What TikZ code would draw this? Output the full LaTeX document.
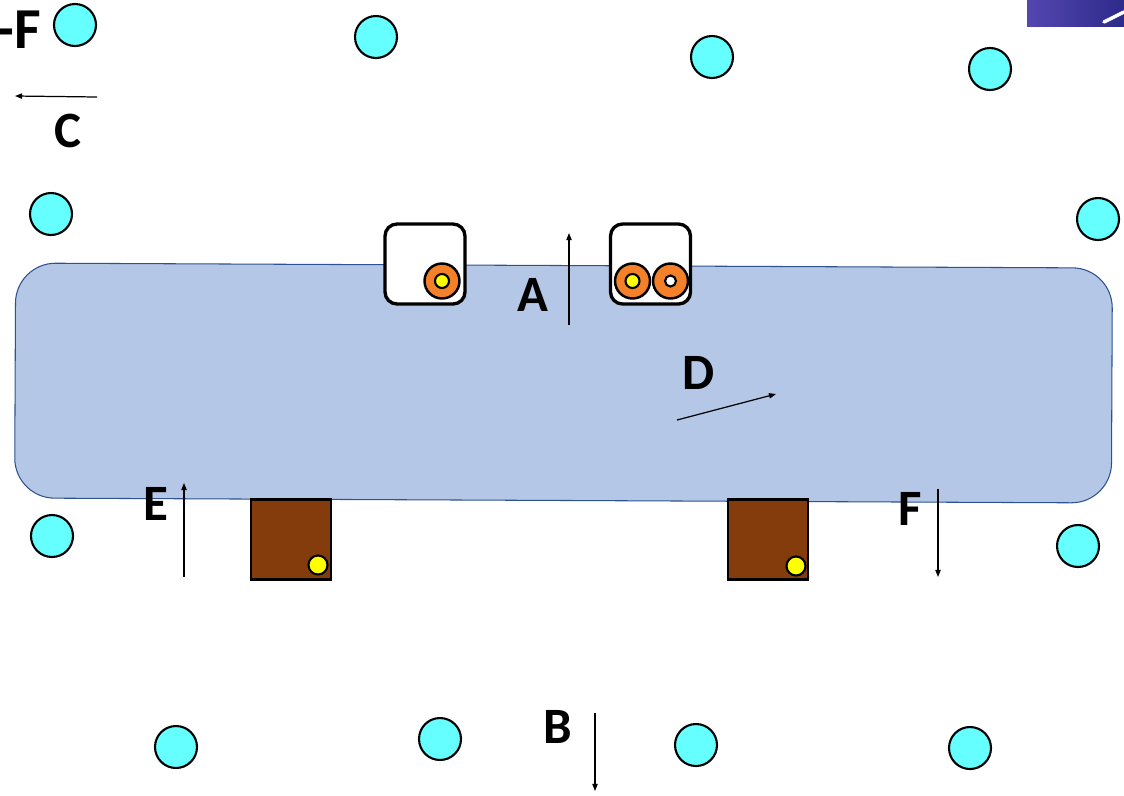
\documentclass[tikz,border=0pt]{standalone}
\usepackage{fontspec}
\setmainfont{Carlito}
\usepackage{tikz}
\usetikzlibrary{arrows.meta}

\definecolor{ballcyan}{HTML}{66FFFF}
\definecolor{slab}{HTML}{B4C7E7}
\definecolor{slabline}{HTML}{2F528F}
\definecolor{portorange}{HTML}{F4812A}
\definecolor{footbrown}{HTML}{843C0C}
\definecolor{pinyellow}{HTML}{FFFF00}
\definecolor{bannerleft}{HTML}{5447B0}
\definecolor{bannerright}{HTML}{2D2A8A}

\tikzset{
  ball/.style={draw, circle, minimum size=0.84cm, inner sep=0pt, fill=ballcyan, line width=1.2pt},
  socket/.style={draw, rounded corners=0.24cm, minimum size=1.6cm, inner sep=0pt, fill=white, line width=1.9pt},
  port/.style={draw, circle, minimum size=0.7cm, inner sep=0pt, fill=portorange, line width=1.4pt},
  pin/.style={draw, circle, minimum size=#1, inner sep=0pt, fill=pinyellow, line width=1.2pt},
  foot/.style={draw, minimum size=1.6cm, inner sep=0pt, fill=footbrown, line width=1.6pt},
  force/.style={line width=0.7pt, -{Triangle[length=4pt,width=3pt]}},
  tag/.style={font=\fontsize{29}{30}\selectfont\bfseries, inner sep=0pt, anchor=base}
}

\begin{document}
\begin{tikzpicture}[x=0.02cm, y=-0.02cm]
  \useasboundingbox (0,0) rectangle (1124,795);

  % corner of the slide banner
  \shade[left color=bannerleft, right color=bannerright] (1027,0) rectangle (1124,26);
  \draw[white, line width=2pt, line cap=round] (1104,22) .. controls (1112,18) .. (1124,12);

  % slab
  \node[draw=slabline, fill=slab, line width=0.6pt, rounded corners=0.8cm,
        minimum width=21.94cm, minimum height=4.7cm, rotate=-0.26] (slab) at (563.5,383) {};

  % balls round the slab
  \node[ball] (b1) at (75,25) {};
  \node[ball] (b2) at (376,37) {};
  \node[ball] (b3) at (712,57) {};
  \node[ball] (b4) at (990,69) {};
  \node[ball] (b5) at (51,214) {};
  \node[ball] (b6) at (1098,219) {};
  \node[ball] (b7) at (52,536) {};
  \node[ball] (b8) at (1078,546) {};
  \node[ball] (b9) at (176,747) {};
  \node[ball] (b10) at (440,739) {};
  \node[ball] (b11) at (696,745) {};
  \node[ball] (b12) at (970,748) {};

  % sockets on top
  \node[socket] (s1) at (425,264) {};
  \node[port] (p1) at (442,281) {};
  \node[pin=0.28cm] (y1) at (p1) {};
  \node[socket] (s2) at (650.5,264) {};
  \node[port] (p2) at (632.5,281) {};
  \node[pin=0.28cm] (y2) at (p2) {};
  \node[port] (p3) at (670.5,281) {};
  \node[pin=0.22cm, fill=white] (y3) at (p3) {};

  % feet below
  \node[foot] (f1) at (291,539.5) {};
  \node[pin=0.38cm] (y4) at (318,565) {};
  \node[foot] (f2) at (768,539.5) {};
  \node[pin=0.38cm] (y5) at (796,566) {};

  % forces
  \coordinate (c0) at (97,97);   \coordinate (c1) at (15,96);
  \coordinate (a0) at (569,325); \coordinate (a1) at (569,233);
  \coordinate (d0) at (677,420); \coordinate (d1) at (776,394);
  \coordinate (e0) at (184,577); \coordinate (e1) at (184,483);
  \coordinate (g0) at (938,489); \coordinate (g1) at (938,577);
  \coordinate (h0) at (595,713); \coordinate (h1) at (595,791);
  \draw[force] (c0) -- (c1);
  \draw[force] (a0) -- (a1);
  \draw[force] (d0) -- (d1);
  \draw[force] (e0) -- (e1);
  \draw[force] (g0) -- (g1);
  \draw[force] (h0) -- (h1);

  \node[tag, anchor=base east, font=\fontsize{33}{34}\selectfont\bfseries] (lmf) at (41,48) {-F};
  \node[tag] (lc) at (68,147) {C};
  \node[tag] (la) at (533,311) {A};
  \node[tag] (ld) at (699,389) {D};
  \node[tag] (le) at (156,520) {E};
  \node[tag] (lf) at (910,525) {F};
  \node[tag] (lb) at (558,743) {B};
\end{tikzpicture}
\end{document}
